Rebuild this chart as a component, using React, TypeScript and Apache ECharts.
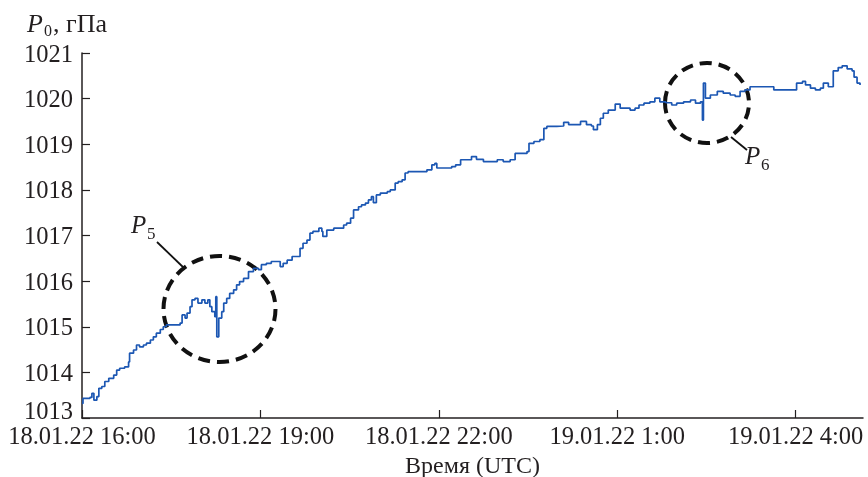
import React, { useEffect, useRef } from 'react';
import * as echarts from 'echarts';

// minutes since 18.01.22 16:00 UTC
const minutesFromStart = [
  0, 1, 8, 10, 12, 15, 17, 20, 23, 27,
  32, 35, 38, 43, 47, 48, 52, 55, 58, 62,
  65, 69, 72, 75, 79, 82, 85, 92, 99, 101,
  104, 106, 109, 111, 114, 117, 121, 124, 127, 129,
  131, 134, 135, 136, 138, 141, 143, 146, 149, 153,
  156, 159, 163, 168, 173, 178, 181, 186, 191, 197,
  200, 203, 207, 212, 217, 220, 223, 227, 230, 233,
  239, 242, 243, 247, 254, 259, 264, 267, 271, 274,
  279, 282, 286, 289, 292, 294, 297, 301, 308, 311,
  316, 319, 323, 326, 329, 334, 341, 348, 353, 356,
  358, 368, 373, 377, 382, 388, 393, 398, 405, 412,
  419, 425, 432, 437, 442, 449, 451, 456, 462, 466,
  469, 479, 486, 491, 496, 503, 509, 514, 516, 520,
  523, 526, 531, 538, 543, 548, 553, 558, 562, 567,
  573, 578, 583, 589, 595, 600, 607, 614, 619, 624,
  626, 627, 629, 634, 641, 647, 654, 659, 664, 669,
  674, 695, 698, 716, 721, 727, 730, 735, 740, 745,
  748, 753, 758, 763, 767, 772, 777, 779, 782, 785,
];

// P0, hPa
const pressure = [
  1013.32, 1013.43, 1013.45, 1013.54, 1013.39, 1013.47, 1013.65, 1013.69, 1013.80, 1013.87,
  1013.94, 1014.05, 1014.09, 1014.12, 1014.23, 1014.42, 1014.49, 1014.60, 1014.56, 1014.60,
  1014.64, 1014.71, 1014.78, 1014.86, 1014.94, 1015.00, 1015.04, 1015.04, 1015.08, 1015.26,
  1015.19, 1015.30, 1015.44, 1015.59, 1015.62, 1015.52, 1015.59, 1015.52, 1015.59, 1015.44,
  1015.33, 1015.22, 1015.66, 1014.78, 1015.19, 1015.33, 1015.52, 1015.62, 1015.73, 1015.81,
  1015.92, 1015.99, 1016.06, 1016.21, 1016.28, 1016.25, 1016.36, 1016.39, 1016.43, 1016.43,
  1016.32, 1016.39, 1016.46, 1016.54, 1016.54, 1016.72, 1016.83, 1016.90, 1017.05, 1017.09,
  1017.16, 1017.09, 1016.98, 1017.12, 1017.16, 1017.16, 1017.23, 1017.27, 1017.38, 1017.56,
  1017.63, 1017.67, 1017.71, 1017.78, 1017.85, 1017.72, 1017.89, 1017.93, 1017.96, 1018.00,
  1018.15, 1018.18, 1018.22, 1018.37, 1018.40, 1018.40, 1018.40, 1018.44, 1018.55, 1018.58,
  1018.48, 1018.48, 1018.51, 1018.55, 1018.66, 1018.66, 1018.73, 1018.67, 1018.62, 1018.62,
  1018.66, 1018.62, 1018.66, 1018.80, 1018.80, 1018.84, 1019.02, 1019.06, 1019.10, 1019.35,
  1019.39, 1019.40, 1019.48, 1019.43, 1019.43, 1019.50, 1019.43, 1019.40, 1019.32, 1019.43,
  1019.57, 1019.68, 1019.75, 1019.88, 1019.79, 1019.79, 1019.75, 1019.79, 1019.86, 1019.90,
  1019.93, 1020.01, 1019.93, 1019.91, 1019.86, 1019.90, 1019.93, 1019.97, 1019.90, 1019.93,
  1019.53, 1020.34, 1020.01, 1020.08, 1020.16, 1020.12, 1020.08, 1020.05, 1020.16, 1020.19,
  1020.26, 1020.26, 1020.19, 1020.19, 1020.34, 1020.38, 1020.30, 1020.23, 1020.19, 1020.23,
  1020.34, 1020.26, 1020.61, 1020.68, 1020.72, 1020.65, 1020.61, 1020.47, 1020.34, 1020.30,
];

const tickMinutes = [0, 180, 360, 540, 720];
const tickLabels = ['18.01.22 16:00', '18.01.22 19:00', '18.01.22 22:00', '19.01.22 1:00', '19.01.22 4:00'];
const xAxisName = 'Время (UTC)';
const yUnit = ', гПа';

export default function App() {
  const ref = useRef<HTMLDivElement>(null);

  useEffect(() => {
    const chart = echarts.init(ref.current as HTMLDivElement, null, { renderer: 'svg' });
    const font = "'Liberation Serif', 'Times New Roman', Times, serif";
    const ink = '#231f20';
    const fs = 24.5;

    const txt = (text: string, x: number, y: number, size: number, italic = false) => ({
      type: 'text',
      x,
      y,
      silent: true,
      style: {
        text,
        fill: ink,
        fontFamily: font,
        fontSize: size,
        fontStyle: italic ? 'italic' : 'normal',
        align: 'left',
        verticalAlign: 'middle',
      },
    });

    chart.setOption({
      animation: false,
      textStyle: { fontFamily: font },
      grid: { left: 82, right: 5, top: 53, bottom: 59, containLabel: false, outerBoundsMode: 'none' },
      xAxis: {
        type: 'value',
        min: 0,
        max: 788,
        interval: 180,
        axisLine: { show: true, onZero: false, lineStyle: { color: ink, width: 1.5 } },
        axisTick: { show: true, inside: true, length: 8, customValues: tickMinutes, lineStyle: { color: ink, width: 1.2 } },
        axisLabel: {
          customValues: tickMinutes,
          formatter: (v: number) => {
            const i = tickMinutes.indexOf(v);
            return i >= 0 ? tickLabels[i] : '';
          },
          color: ink,
          fontFamily: font,
          fontSize: fs,
          margin: 5,
        },
        splitLine: { show: false },
        name: xAxisName,
        nameLocation: 'middle',
        nameGap: 29,
        nameTextStyle: { color: ink, fontFamily: font, fontSize: 24, lineHeight: 20 },
      },
      yAxis: {
        type: 'value',
        min: 1013,
        max: 1021,
        interval: 1,
        axisLine: { show: true, onZero: false, lineStyle: { color: ink, width: 1.5 } },
        axisTick: { show: true, inside: true, length: 8, lineStyle: { color: ink, width: 1.2 } },
        axisLabel: {
          formatter: (v: number) => (v === 1013 ? '{low|1013}' : String(v)),
          color: ink,
          fontFamily: font,
          fontSize: fs,
          margin: 9,
          rich: {
            low: { color: ink, fontFamily: font, fontSize: fs, padding: [0, 0, 16, 0] },
          },
        },
        splitLine: { show: false },
      },
      series: [
        {
          type: 'line',
          data: minutesFromStart.map((m, i) => [m, pressure[i]]),
          showSymbol: false,
          step: 'end',
          lineStyle: { color: '#1c57b3', width: 1.7 },
          clip: false,
        },
      ],
      graphic: [
        txt('P', 27, 23, 26, true),
        txt('0', 44, 30, 16),
        txt(yUnit, 53, 23, 26),
        {
          type: 'ellipse',
          silent: true,
          shape: { cx: 219.5, cy: 309, rx: 56, ry: 53 },
          style: { fill: 'none', stroke: '#111', lineWidth: 4, lineDash: [12, 7] },
        },
        {
          type: 'ellipse',
          silent: true,
          shape: { cx: 707, cy: 103, rx: 42, ry: 40 },
          style: { fill: 'none', stroke: '#111', lineWidth: 4, lineDash: [12, 7] },
        },
        {
          type: 'line',
          silent: true,
          shape: { x1: 157, y1: 242, x2: 184, y2: 268 },
          style: { stroke: '#111', lineWidth: 1.8 },
        },
        {
          type: 'line',
          silent: true,
          shape: { x1: 731, y1: 137, x2: 747, y2: 150 },
          style: { stroke: '#111', lineWidth: 1.8 },
        },
        txt('P', 131, 224, 25, true),
        txt('5', 147, 233, 17),
        txt('P', 745, 155, 25, true),
        txt('6', 761, 164, 17),
      ],
    });
    return () => chart.dispose();
  }, []);

  return <div ref={ref} style={{ position: 'fixed', left: 0, top: 0, width: 868, height: 477 }} />;
}
